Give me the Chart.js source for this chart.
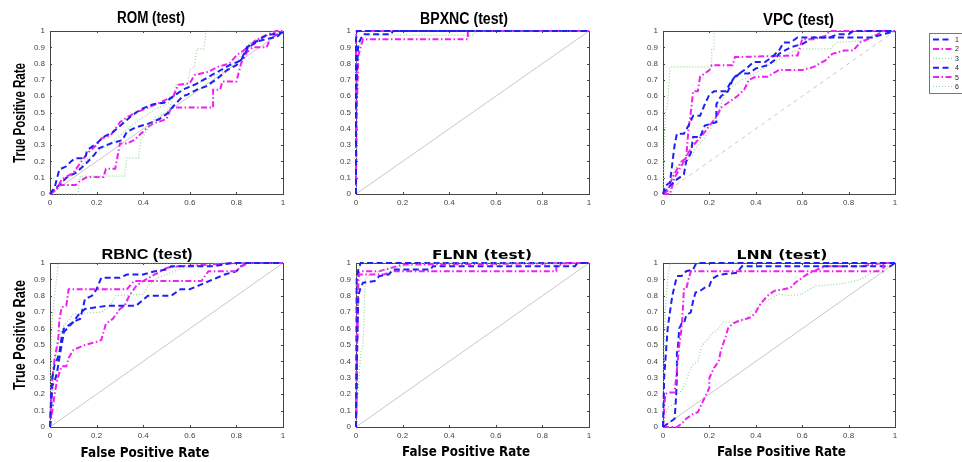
<!DOCTYPE html>
<html>
<head>
<meta charset="utf-8">
<script src="https://cdn.jsdelivr.net/npm/chart.js@4.4.0/dist/chart.umd.min.js"></script>
<style>
  html, body { margin: 0; padding: 0; background: #fff; }
  #wrap { position: relative; width: 962px; height: 462px; overflow: hidden; background: #fff; }
  #wrap canvas { position: absolute; left: 0; top: 0; }
</style>
</head>
<body>
<div id="wrap">
  <canvas id="p0" width="962" height="462"></canvas>
  <canvas id="p1" width="962" height="462"></canvas>
  <canvas id="p2" width="962" height="462"></canvas>
  <canvas id="p3" width="962" height="462"></canvas>
  <canvas id="p4" width="962" height="462"></canvas>
  <canvas id="p5" width="962" height="462"></canvas>
</div>
<script>
// legend labels (only the first character survives in the picture)
const seriesNames = ["1", "2", "3", "4", "5", "6"];
const xTicks = [0, 0.2, 0.4, 0.6, 0.8, 1];
const yTicks = [0, 0.1, 0.2, 0.3, 0.4, 0.5, 0.6, 0.7, 0.8, 0.9, 1];
const chanceLine = [[0, 0], [1, 1]];

// ROC curves, [false positive rate, true positive rate]
// ROM (test)
const rom1 = [[0,0],[0.02,0.04],[0.04,0.15],[0.07,0.17],[0.09,0.2],[0.11,0.22],[0.15,0.22],[0.16,0.27],[0.2,0.31],[0.23,0.35],[0.27,0.38],[0.31,0.43],[0.35,0.48],[0.39,0.52],[0.44,0.55],[0.49,0.56],[0.52,0.59],[0.57,0.64],[0.62,0.67],[0.67,0.71],[0.72,0.75],[0.77,0.79],[0.82,0.82],[0.845,0.9],[0.89,0.94],[0.93,0.975],[1,0.99]];
const rom2 = [[0,0],[0.03,0.03],[0.05,0.09],[0.1,0.13],[0.13,0.19],[0.16,0.25],[0.2,0.3],[0.22,0.34],[0.26,0.36],[0.3,0.44],[0.33,0.47],[0.37,0.5],[0.42,0.53],[0.47,0.56],[0.5,0.58],[0.53,0.6],[0.55,0.67],[0.6,0.68],[0.62,0.73],[0.68,0.75],[0.72,0.78],[0.77,0.8],[0.8,0.85],[0.83,0.88],[0.85,0.9],[0.88,0.94],[0.92,0.97],[0.97,1],[1,1]];
const rom3 = [[0,0],[0.12,0],[0.13,0.11],[0.32,0.11],[0.33,0.22],[0.38,0.22],[0.39,0.33],[0.42,0.4],[0.45,0.47],[0.5,0.5],[0.52,0.55],[0.54,0.67],[0.59,0.67],[0.6,0.76],[0.62,0.78],[0.63,0.89],[0.66,0.89],[0.67,1],[1,1]];
const rom4 = [[0,0],[0.05,0.07],[0.07,0.1],[0.11,0.13],[0.15,0.18],[0.19,0.24],[0.21,0.28],[0.26,0.31],[0.31,0.33],[0.33,0.38],[0.37,0.41],[0.42,0.43],[0.47,0.46],[0.5,0.49],[0.53,0.54],[0.57,0.6],[0.59,0.61],[0.63,0.64],[0.67,0.66],[0.72,0.71],[0.76,0.76],[0.8,0.79],[0.83,0.84],[0.85,0.9],[0.9,0.94],[0.945,0.955],[0.975,0.965],[1,1]];
const rom5 = [[0,0],[0.02,0.02],[0.04,0.055],[0.11,0.055],[0.13,0.08],[0.16,0.105],[0.23,0.105],[0.24,0.155],[0.28,0.155],[0.29,0.23],[0.3,0.31],[0.33,0.31],[0.36,0.33],[0.39,0.37],[0.42,0.41],[0.44,0.43],[0.5,0.46],[0.52,0.53],[0.7,0.53],[0.7,0.64],[0.73,0.64],[0.74,0.69],[0.8,0.69],[0.82,0.8],[0.845,0.87],[0.87,0.9],[0.93,0.9],[0.945,0.955],[1,1]];
const rom6 = [[0,0],[0.04,0.06],[0.09,0.11],[0.15,0.2],[0.2,0.26],[0.25,0.3],[0.3,0.36],[0.35,0.42],[0.4,0.47],[0.45,0.52],[0.5,0.55],[0.55,0.62],[0.6,0.66],[0.65,0.69],[0.7,0.72],[0.75,0.76],[0.8,0.8],[0.83,0.88],[0.86,0.93],[0.9,0.96],[1,1]];

// BPXNC (test)
const bpx1 = [[0,0],[0,0.5],[0.005,0.8],[0.01,0.92],[0.02,0.95],[0.03,0.98],[0.15,0.98],[0.16,1],[1,1]];
const bpx2 = [[0,0],[0.003,0.5],[0.01,0.85],[0.02,0.9],[0.03,0.95],[0.48,0.95],[0.48,1],[1,1]];
const bpx3 = [[0,0],[0.01,0.9],[0.03,0.95],[0.05,0.975],[0.5,0.975],[0.52,1],[1,1]];
const bpx4 = [[0,0],[0,0.95],[0.005,1],[1,1]];
const bpx5 = [[0,0],[0,0.97],[0.003,1],[1,1]];
const bpx6 = [[0,0],[0,1],[1,1]];

// VPC (test)
const vpc1 = [[0,0],[0.01,0.05],[0.03,0.07],[0.05,0.3],[0.06,0.37],[0.09,0.37],[0.11,0.42],[0.13,0.48],[0.16,0.48],[0.18,0.55],[0.2,0.61],[0.22,0.63],[0.27,0.63],[0.29,0.68],[0.31,0.72],[0.33,0.74],[0.36,0.77],[0.39,0.81],[0.44,0.81],[0.47,0.84],[0.5,0.88],[0.52,0.93],[0.55,0.93],[0.58,0.96],[0.72,0.96],[0.75,0.98],[0.8,0.98],[0.82,1],[1,1]];
const vpc2 = [[0,0],[0.02,0.02],[0.04,0.1],[0.06,0.15],[0.08,0.2],[0.1,0.22],[0.11,0.4],[0.12,0.5],[0.13,0.63],[0.15,0.63],[0.16,0.72],[0.18,0.74],[0.2,0.76],[0.21,0.79],[0.3,0.79],[0.31,0.84],[0.58,0.85],[0.6,0.95],[0.65,0.95],[0.7,0.97],[0.72,1],[1,1]];
const vpc3 = [[0,0],[0.01,0.5],[0.02,0.55],[0.03,0.78],[0.21,0.78],[0.21,0.89],[0.22,0.89],[0.22,1],[1,1]];
const vpc4 = [[0,0],[0.03,0.05],[0.06,0.09],[0.09,0.12],[0.1,0.2],[0.12,0.25],[0.13,0.35],[0.16,0.35],[0.18,0.42],[0.23,0.44],[0.23,0.55],[0.25,0.6],[0.28,0.63],[0.3,0.7],[0.33,0.74],[0.37,0.74],[0.4,0.77],[0.45,0.79],[0.48,0.82],[0.5,0.86],[0.55,0.9],[0.6,0.92],[0.65,0.96],[0.9,0.96],[0.95,0.98],[1,1]];
const vpc5 = [[0,0],[0.03,0],[0.05,0.1],[0.09,0.2],[0.12,0.28],[0.15,0.33],[0.18,0.38],[0.2,0.42],[0.23,0.47],[0.25,0.53],[0.28,0.56],[0.32,0.6],[0.35,0.64],[0.37,0.7],[0.4,0.72],[0.45,0.72],[0.5,0.76],[0.6,0.76],[0.65,0.78],[0.7,0.82],[0.73,0.86],[0.78,0.88],[0.82,0.88],[0.85,0.93],[0.9,0.96],[0.95,1],[1,1]];
const vpc6 = [[0,0],[0.03,0.05],[0.05,0.15],[0.08,0.2],[0.12,0.22],[0.14,0.28],[0.17,0.33],[0.2,0.38],[0.22,0.45],[0.25,0.55],[0.27,0.62],[0.3,0.66],[0.34,0.7],[0.37,0.72],[0.42,0.76],[0.47,0.8],[0.52,0.84],[0.55,0.87],[0.6,0.89],[0.72,0.89],[0.75,0.93],[0.85,0.94],[0.9,0.97],[0.95,1],[1,1]];

// RBNC (test)
const rbn1 = [[0,0],[0.005,0.2],[0.01,0.3],[0.02,0.38],[0.03,0.41],[0.04,0.45],[0.05,0.55],[0.06,0.6],[0.08,0.62],[0.1,0.64],[0.13,0.66],[0.15,0.78],[0.18,0.8],[0.2,0.84],[0.22,0.91],[0.3,0.91],[0.33,0.93],[0.4,0.93],[0.45,0.95],[0.5,0.96],[0.52,0.98],[0.7,0.98],[0.78,1],[1,1]];
const rbn2 = [[0,0],[0.005,0.15],[0.01,0.3],[0.02,0.42],[0.035,0.53],[0.04,0.65],[0.05,0.73],[0.07,0.74],[0.08,0.84],[0.33,0.84],[0.36,0.89],[0.65,0.89],[0.68,0.95],[0.8,0.95],[0.82,0.98],[0.85,1],[1,1]];
const rbn3 = [[0,0],[0.005,0.5],[0.01,0.67],[0.02,0.8],[0.03,0.92],[0.035,1],[1,1]];
const rbn4 = [[0,0],[0.01,0.25],[0.02,0.28],[0.03,0.33],[0.04,0.42],[0.05,0.5],[0.06,0.58],[0.1,0.64],[0.12,0.68],[0.15,0.72],[0.25,0.74],[0.37,0.74],[0.42,0.8],[0.52,0.8],[0.56,0.84],[0.6,0.84],[0.65,0.87],[0.7,0.9],[0.75,0.93],[0.8,0.95],[0.82,0.98],[0.85,1],[1,1]];
const rbn5 = [[0,0],[0.01,0.1],[0.02,0.2],[0.03,0.28],[0.04,0.33],[0.05,0.37],[0.07,0.37],[0.08,0.42],[0.1,0.47],[0.15,0.5],[0.2,0.52],[0.22,0.53],[0.24,0.63],[0.27,0.66],[0.3,0.72],[0.32,0.74],[0.34,0.8],[0.37,0.86],[0.4,0.89],[0.45,0.93],[0.5,0.97],[0.55,0.98],[0.8,1],[1,1]];
const rbn6 = [[0,0],[0.01,0.2],[0.02,0.4],[0.04,0.55],[0.06,0.62],[0.08,0.65],[0.1,0.69],[0.22,0.7],[0.26,0.74],[0.28,0.8],[0.4,0.81],[0.42,0.86],[0.45,0.9],[0.5,0.93],[0.55,0.96],[0.6,0.98],[0.8,1],[1,1]];

// FLNN (test)
const fln1 = [[0,0],[0.005,0.5],[0.01,0.8],[0.02,0.85],[0.03,0.88],[0.08,0.89],[0.1,0.92],[0.14,0.93],[0.16,0.96],[0.32,0.96],[0.33,0.98],[0.94,0.98],[0.95,1],[1,1]];
const fln2 = [[0,0],[0.005,0.6],[0.01,0.9],[0.015,0.93],[0.12,0.93],[0.16,0.95],[0.86,0.95],[0.86,0.98],[0.9,1],[1,1]];
const fln3 = [[0,0],[0.02,0.45],[0.03,0.5],[0.035,0.7],[0.04,0.9],[0.05,0.92],[0.1,0.95],[0.2,0.98],[0.3,1],[1,1]];
const fln4 = [[0,0],[0.003,0.9],[0.01,0.96],[0.02,1],[1,1]];
const fln5 = [[0,0],[0.01,0.94],[0.02,0.95],[0.1,0.95],[0.2,0.99],[1,1]];
const fln6 = [[0,0],[0,0.9],[0.02,1],[1,1]];

// LNN (test)
const lnn1 = [[0,0],[0.005,0.3],[0.01,0.4],[0.015,0.5],[0.02,0.6],[0.03,0.7],[0.04,0.8],[0.05,0.86],[0.06,0.92],[0.08,0.92],[0.1,0.95],[0.13,0.96],[0.14,0.99],[0.15,1],[1,1]];
const lnn2 = [[0,0],[0.01,0.2],[0.02,0.21],[0.05,0.21],[0.06,0.35],[0.07,0.5],[0.08,0.6],[0.085,0.7],[0.09,0.84],[0.1,0.84],[0.11,0.9],[0.12,0.95],[0.95,0.95],[0.95,1],[1,1]];
const lnn3 = [[0,0],[0.005,0.5],[0.01,0.7],[0.015,0.8],[0.02,0.9],[0.03,1],[1,1]];
const lnn4 = [[0,0],[0.03,0.03],[0.05,0.05],[0.055,0.15],[0.06,0.3],[0.06,0.45],[0.065,0.5],[0.07,0.6],[0.08,0.63],[0.09,0.63],[0.1,0.68],[0.12,0.7],[0.13,0.77],[0.14,0.82],[0.16,0.83],[0.18,0.85],[0.2,0.86],[0.21,0.9],[0.23,0.92],[0.25,0.93],[0.32,0.94],[0.34,0.98],[0.98,0.98],[1,1]];
const lnn5 = [[0,0],[0.06,0],[0.08,0.02],[0.1,0.05],[0.13,0.08],[0.15,0.09],[0.16,0.12],[0.18,0.18],[0.2,0.24],[0.2,0.3],[0.22,0.36],[0.24,0.4],[0.25,0.47],[0.27,0.55],[0.28,0.6],[0.3,0.63],[0.33,0.65],[0.36,0.66],[0.38,0.67],[0.4,0.7],[0.42,0.75],[0.45,0.8],[0.48,0.83],[0.52,0.84],[0.55,0.85],[0.57,0.88],[0.6,0.91],[0.62,0.93],[0.65,0.95],[0.68,0.97],[0.7,0.98],[0.85,0.98],[0.95,1],[1,1]];
const lnn6 = [[0,0],[0.02,0.12],[0.05,0.14],[0.06,0.2],[0.08,0.22],[0.1,0.28],[0.12,0.36],[0.13,0.38],[0.15,0.4],[0.16,0.46],[0.17,0.5],[0.19,0.53],[0.21,0.57],[0.24,0.6],[0.26,0.64],[0.33,0.64],[0.36,0.66],[0.38,0.7],[0.4,0.72],[0.43,0.76],[0.46,0.78],[0.5,0.81],[0.55,0.8],[0.6,0.81],[0.63,0.84],[0.66,0.86],[0.75,0.87],[0.8,0.88],[0.85,0.9],[0.9,0.94],[0.95,0.97],[1,1]];

// line styles per series
const seriesColors = ["#2020f4", "#f020f0", "#92d892", "#2020f4", "#f020f0", "#92d892"];
const seriesDash = [[6, 3.5], [6, 2.5, 1.5, 2.5], [1, 2], [6, 3.5], [6, 2.5, 1.5, 2.5], [1, 2]];
const seriesWidth = [2, 2, 1.2, 2, 2, 1.2];

const ARIAL = "'Liberation Sans', Arial, sans-serif";
const VERD = "'DejaVu Sans', Verdana, sans-serif";

// draw a text squeezed/stretched to a given width
function fitText(ctx, t) {
  ctx.save();
  ctx.font = t.font;
  ctx.fillStyle = "#000";
  ctx.textAlign = "center";
  ctx.textBaseline = "alphabetic";
  ctx.translate(t.x, t.y);
  if (t.rotate) ctx.rotate(-Math.PI / 2);
  const w = ctx.measureText(t.text).width;
  ctx.scale(t.width / w, 1);
  ctx.fillText(t.text, 0, 0);
  ctx.restore();
}

const panelDecor = {
  id: "panelDecor",
  beforeDatasetsDraw(chart) {
    const { ctx, chartArea: a, scales } = chart;
    ctx.save();
    ctx.strokeStyle = "#444";
    ctx.lineWidth = 1;
    ctx.strokeRect(a.left + 0.5, a.top + 0.5, a.right - a.left, a.bottom - a.top);
    ctx.beginPath();
    scales.x.ticks.forEach(t => {
      const px = Math.round(scales.x.getPixelForValue(t.value)) + 0.5;
      ctx.moveTo(px, a.bottom); ctx.lineTo(px, a.bottom - 2);
      ctx.moveTo(px, a.top); ctx.lineTo(px, a.top + 2);
    });
    scales.y.ticks.forEach(t => {
      const py = Math.round(scales.y.getPixelForValue(t.value)) + 0.5;
      ctx.moveTo(a.left, py); ctx.lineTo(a.left + 2, py);
      ctx.moveTo(a.right, py); ctx.lineTo(a.right - 2, py);
    });
    ctx.stroke();
    ctx.restore();
  },
  afterDraw(chart, args, opts) {
    (opts.texts || []).forEach(t => fitText(chart.ctx, t));
  }
};

// legend box, cut off by the right edge of the figure
const cutLegend = {
  id: "cutLegend",
  afterDraw(chart, args, opts) {
    const ctx = chart.ctx;
    ctx.save();
    ctx.fillStyle = "#fff";
    ctx.strokeStyle = "#777";
    ctx.lineWidth = 1;
    ctx.fillRect(opts.x, opts.y, 60, opts.h);
    ctx.strokeRect(opts.x + 0.5, opts.y + 0.5, 60, opts.h);
    chart.data.datasets.slice(0, seriesNames.length).forEach((ds, i) => {
      const y = opts.y + 6.5 + i * 9.4;
      ctx.strokeStyle = ds.borderColor;
      ctx.lineWidth = ds.borderWidth;
      ctx.setLineDash(ds.borderDash);
      ctx.beginPath();
      ctx.moveTo(opts.x + 4, y);
      ctx.lineTo(opts.x + 23, y);
      ctx.stroke();
      ctx.setLineDash([]);
      ctx.fillStyle = "#222";
      ctx.font = "7px " + ARIAL;
      ctx.fillText(ds.label, opts.x + 26, y + 2.5);
    });
    ctx.restore();
  }
};

const panels = [
  { id: "p0", curves: [rom1, rom2, rom3, rom4, rom5, rom6], box: [50, 31, 283, 194], chanceDash: [],
    texts: [
      { text: "ROM (test)", x: 151, y: 23, width: 68, font: "bold 16px " + ARIAL },
      { text: "True Positive Rate", x: 25, y: 113, width: 100, rotate: true, font: "bold 17px " + ARIAL }
    ] },
  { id: "p1", curves: [bpx1, bpx2, bpx3, bpx4, bpx5, bpx6], box: [356, 31, 589, 194], chanceDash: [],
    texts: [
      { text: "BPXNC (test)", x: 464, y: 24, width: 88, font: "bold 16px " + ARIAL }
    ] },
  { id: "p2", curves: [vpc1, vpc2, vpc3, vpc4, vpc5, vpc6], box: [663, 31, 895, 194], chanceDash: [4, 4], legend: true,
    texts: [
      { text: "VPC (test)", x: 798.5, y: 25, width: 71, font: "bold 16px " + ARIAL }
    ] },
  { id: "p3", curves: [rbn1, rbn2, rbn3, rbn4, rbn5, rbn6], box: [50, 263, 283, 427], chanceDash: [],
    texts: [
      { text: "RBNC (test)", x: 147, y: 259, width: 91, font: "bold 14px " + ARIAL },
      { text: "True Positive Rate", x: 25, y: 335, width: 110, rotate: true, font: "bold 17px " + ARIAL },
      { text: "False Positive Rate", x: 145, y: 457, width: 129, font: "bold 14.5px " + VERD }
    ] },
  { id: "p4", curves: [fln1, fln2, fln3, fln4, fln5, fln6], box: [356, 263, 589, 427], chanceDash: [],
    texts: [
      { text: "FLNN (test)", x: 482, y: 258.5, width: 100, font: "bold 11.5px " + VERD },
      { text: "False Positive Rate", x: 466, y: 456, width: 128, font: "bold 14.5px " + VERD }
    ] },
  { id: "p5", curves: [lnn1, lnn2, lnn3, lnn4, lnn5, lnn6], box: [663, 263, 895, 427], chanceDash: [],
    texts: [
      { text: "LNN (test)", x: 782, y: 258.5, width: 91, font: "bold 11.5px " + VERD },
      { text: "False Positive Rate", x: 781.5, y: 456, width: 129, font: "bold 14.5px " + VERD }
    ] }
];

const tickFont = { family: ARIAL, size: 8 };
const fmt = v => String(Math.round(v * 10) / 10);

panels.forEach(p => {
  const [left, top, right, bottom] = p.box;
  const datasets = p.curves.map((c, i) => ({
    label: seriesNames[i],
    data: c.map(pt => ({ x: pt[0], y: pt[1] })),
    showLine: true,
    pointRadius: 0,
    borderColor: seriesColors[i],
    borderDash: seriesDash[i],
    borderWidth: seriesWidth[i],
    tension: 0,
    clip: false
  }));
  datasets.push({
    label: "chance",
    data: chanceLine.map(pt => ({ x: pt[0], y: pt[1] })),
    showLine: true,
    pointRadius: 0,
    borderColor: "#c8c8c8",
    borderDash: p.chanceDash,
    borderWidth: 1
  });

  const plugins = [panelDecor];
  if (p.legend) plugins.push(cutLegend);

  new Chart(document.getElementById(p.id), {
    type: "scatter",
    data: { datasets },
    options: {
      responsive: false,
      animation: false,
      events: [],
      layout: { padding: { left: left - 30, top: top, right: 962 - right, bottom: 462 - bottom - 20 } },
      plugins: {
        legend: { display: false },
        tooltip: { enabled: false },
        panelDecor: { texts: p.texts },
        cutLegend: { x: 929, y: 33, h: 60 }
      },
      scales: {
        x: {
          type: "linear", min: 0, max: 1,
          afterBuildTicks: s => { s.ticks = xTicks.map(v => ({ value: v })); },
          afterFit: s => { s.height = 20; },
          grid: { display: false, drawTicks: false, tickLength: 0 },
          border: { display: false },
          ticks: { font: tickFont, color: "#444", padding: 4, autoSkip: false, maxRotation: 0, callback: fmt }
        },
        y: {
          type: "linear", min: 0, max: 1,
          afterBuildTicks: s => { s.ticks = yTicks.map(v => ({ value: v })); },
          afterFit: s => { s.width = 30; },
          grid: { display: false, drawTicks: false, tickLength: 0 },
          border: { display: false },
          ticks: { font: tickFont, color: "#444", padding: 5, autoSkip: false, callback: fmt }
        }
      }
    },
    plugins
  });
});
</script>
</body>
</html>
